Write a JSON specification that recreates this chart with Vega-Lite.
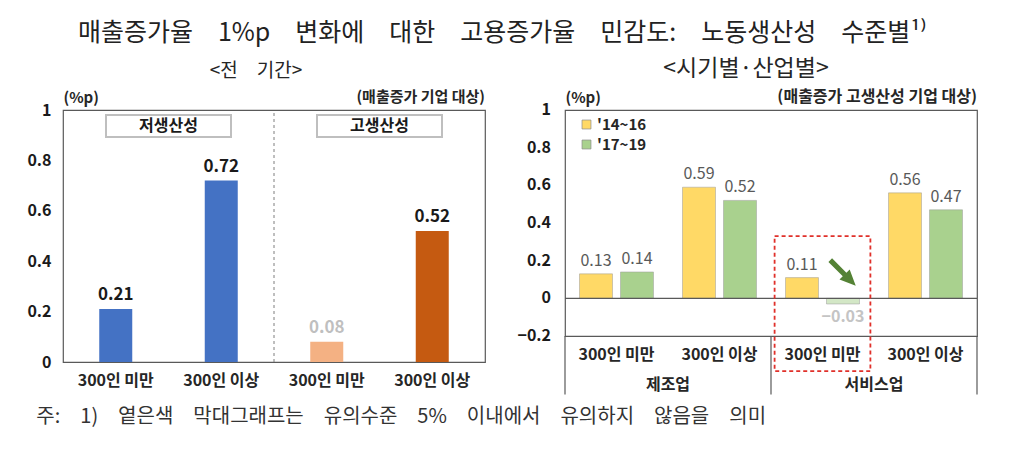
{
  "$schema": "https://vega.github.io/schema/vega-lite/v6.json",
  "padding": {"left": 26, "top": 21, "right": 5, "bottom": 5},
  "config": {
    "font": "Noto Sans CJK KR",
    "view": {"stroke": "#595959", "strokeWidth": 1.2},
    "axis": {"grid": false}
  },
  "title": {
    "text": "매출증가율\u20031%p\u2003변화에\u2003대한\u2003고용증가율\u2003민감도:\u2003노동생산성\u2003수준별¹⁾",
    "fontSize": 25, "fontWeight": "normal", "color": "#222222", "anchor": "middle", "offset": 11
  },
  "vconcat": [
    {
      "bounds": "flush",
      "spacing": 80,
      "resolve": {"scale": {"color": "independent"}, "legend": {"color": "independent"}},
      "title": {
        "text": "주:\u20031)\u2003옅은색\u2003막대그래프는\u2003유의수준\u20035%\u2003이내에서\u2003유의하지\u2003않음을\u2003의미",
        "orient": "bottom", "anchor": "start", "fontSize": 20, "fontWeight": "normal", "color": "#333333", "offset": 11, "dx": 10
      },
      "hconcat": [
        {
          "width": 422,
          "height": 252,
          "title": {"text": "<전\u2003기간>", "fontSize": 19, "fontWeight": "normal", "color": "#262626", "offset": 9, "dx": -18},
          "data": {"values": [
            {"prod": "저생산성", "size": "300인 미만", "key": "저생산성|300인 미만", "value": 0.21, "sig": true},
            {"prod": "저생산성", "size": "300인 이상", "key": "저생산성|300인 이상", "value": 0.72, "sig": true},
            {"prod": "고생산성", "size": "300인 미만", "key": "고생산성|300인 미만", "value": 0.08, "sig": false},
            {"prod": "고생산성", "size": "300인 이상", "key": "고생산성|300인 이상", "value": 0.52, "sig": true}
          ]},
          "layer": [
            {
              "mark": {"type": "bar", "width": 33},
              "encoding": {
                "x": {"field": "key", "type": "nominal",
                  "scale": {"domain": ["저생산성|300인 미만", "저생산성|300인 이상", "고생산성|300인 미만", "고생산성|300인 이상"], "paddingInner": 0, "paddingOuter": 0},
                  "axis": {"title": null, "orient": "bottom", "labelAngle": 0, "labelExpr": "split(datum.label, '|')[1]", "labelFontSize": 16, "labelFontWeight": "bold", "labelColor": "#262626", "labelPadding": 10, "ticks": false, "domain": false}},
                "y": {"field": "value", "type": "quantitative", "scale": {"domain": [0, 1], "nice": false},
                  "axis": {"orient": "left", "values": [0, 0.2, 0.4, 0.6, 0.8, 1], "format": "~g", "labelOverlap": false, "labelFontSize": 16, "labelFontWeight": "bold", "labelColor": "#1a1a1a", "labelPadding": 12, "ticks": false, "domain": false,
                    "title": "(%p)", "titleAngle": 0, "titleAlign": "left", "titleBaseline": "bottom", "titleX": 0, "titleY": -5, "titleFontSize": 15, "titleFontWeight": "bold", "titleColor": "#262626"}},
                "color": {"condition": {"test": "!datum.sig", "value": "#f4b183"}, "field": "prod", "type": "nominal",
                  "scale": {"domain": ["저생산성", "고생산성"], "range": ["#4472c4", "#c55a11"]}, "legend": null}
              }
            },
            {
              "mark": {"type": "text", "baseline": "bottom", "dy": -5, "fontSize": 17, "fontWeight": "bold"},
              "encoding": {
                "x": {"field": "key", "type": "nominal", "scale": {"domain": ["저생산성|300인 미만", "저생산성|300인 이상", "고생산성|300인 미만", "고생산성|300인 이상"], "paddingInner": 0, "paddingOuter": 0}},
                "y": {"field": "value", "type": "quantitative", "scale": {"domain": [0, 1], "nice": false}},
                "text": {"field": "value", "type": "quantitative", "format": ".2f"},
                "color": {"condition": {"test": "!datum.sig", "value": "#bfbfbf"}, "value": "#1a1a1a"}
              }
            },
            {
              "data": {"values": [{"key": "고생산성|300인 미만"}]},
              "mark": {"type": "rule", "strokeDash": [3, 3], "color": "#7f7f7f", "strokeWidth": 1},
              "encoding": {
                "x": {"field": "key", "type": "nominal", "bandPosition": 0, "scale": {"domain": ["저생산성|300인 미만", "저생산성|300인 이상", "고생산성|300인 미만", "고생산성|300인 이상"], "paddingInner": 0, "paddingOuter": 0}},
                "y": {"datum": 0, "scale": {"domain": [0, 1], "nice": false}},
                "y2": {"datum": 1}
              }
            },
            {
              "data": {"values": [{"key": "저생산성|300인 미만", "label": "저생산성"}, {"key": "고생산성|300인 미만", "label": "고생산성"}]},
              "layer": [
                {
                  "mark": {"type": "point", "shape": "M-1,-0.176L1,-0.176L1,0.176L-1,0.176Z", "size": 15625, "filled": true, "fill": "#ffffff", "stroke": "#bfbfbf", "strokeWidth": 2, "opacity": 1},
                  "encoding": {
                    "x": {"field": "key", "type": "nominal", "bandPosition": 1, "scale": {"domain": ["저생산성|300인 미만", "저생산성|300인 이상", "고생산성|300인 미만", "고생산성|300인 이상"], "paddingInner": 0, "paddingOuter": 0}},
                    "y": {"datum": 0.937, "scale": {"domain": [0, 1], "nice": false}}
                  }
                },
                {
                  "mark": {"type": "text", "fontSize": 16, "fontWeight": "bold", "color": "#1a1a1a"},
                  "encoding": {
                    "x": {"field": "key", "type": "nominal", "bandPosition": 1, "scale": {"domain": ["저생산성|300인 미만", "저생산성|300인 이상", "고생산성|300인 미만", "고생산성|300인 이상"], "paddingInner": 0, "paddingOuter": 0}},
                    "y": {"datum": 0.937, "scale": {"domain": [0, 1], "nice": false}},
                    "text": {"field": "label", "type": "nominal"}
                  }
                }
              ]
            },
            {
              "data": {"values": [{"key": "고생산성|300인 이상", "label": "(매출증가 기업 대상)"}]},
              "mark": {"type": "text", "align": "right", "baseline": "bottom", "dy": -5, "fontSize": 15, "fontWeight": "bold", "color": "#262626"},
              "encoding": {
                "x": {"field": "key", "type": "nominal", "bandPosition": 1, "scale": {"domain": ["저생산성|300인 미만", "저생산성|300인 이상", "고생산성|300인 미만", "고생산성|300인 이상"], "paddingInner": 0, "paddingOuter": 0}},
                "y": {"datum": 1, "scale": {"domain": [0, 1], "nice": false}},
                "text": {"field": "label", "type": "nominal"}
              }
            }
          ]
        },
        {
          "width": 412,
          "height": 226,
          "title": {"text": "<시기별·산업별>", "fontSize": 23, "fontWeight": "normal", "color": "#262626", "offset": 8, "dx": -25},
          "data": {"values": [
            {"ind": "제조업", "size": "300인 미만", "key": "제조업|300인 미만", "period": "'14~16", "value": 0.13, "sig": true},
            {"ind": "제조업", "size": "300인 미만", "key": "제조업|300인 미만", "period": "'17~19", "value": 0.14, "sig": true},
            {"ind": "제조업", "size": "300인 이상", "key": "제조업|300인 이상", "period": "'14~16", "value": 0.59, "sig": true},
            {"ind": "제조업", "size": "300인 이상", "key": "제조업|300인 이상", "period": "'17~19", "value": 0.52, "sig": true},
            {"ind": "서비스업", "size": "300인 미만", "key": "서비스업|300인 미만", "period": "'14~16", "value": 0.11, "sig": true},
            {"ind": "서비스업", "size": "300인 미만", "key": "서비스업|300인 미만", "period": "'17~19", "value": -0.03, "sig": false},
            {"ind": "서비스업", "size": "300인 이상", "key": "서비스업|300인 이상", "period": "'14~16", "value": 0.56, "sig": true},
            {"ind": "서비스업", "size": "300인 이상", "key": "서비스업|300인 이상", "period": "'17~19", "value": 0.47, "sig": true}
          ]},
          "layer": [
            {
              "mark": {"type": "bar", "stroke": "#9a9a9a", "strokeWidth": 0.5},
              "encoding": {
                "x": {"field": "key", "type": "nominal",
                  "scale": {"type": "band", "domain": ["제조업|300인 미만", "제조업|300인 이상", "서비스업|300인 미만", "서비스업|300인 이상"], "paddingInner": 0, "paddingOuter": 0},
                  "axis": {"title": null, "orient": "bottom", "labelAngle": 0, "labelExpr": "split(datum.label, '|')[1]", "labelFontSize": 16, "labelFontWeight": "bold", "labelColor": "#262626", "labelPadding": 10, "ticks": false, "domain": false}},
                "xOffset": {"field": "period", "type": "nominal", "scale": {"domain": ["'14~16", "'17~19"], "paddingInner": 0.195, "paddingOuter": 0.354}},
                "y": {"field": "value", "type": "quantitative", "scale": {"domain": [-0.2, 1], "nice": false},
                  "axis": {"orient": "left", "values": [-0.2, 0, 0.2, 0.4, 0.6, 0.8, 1], "labels": false, "ticks": false, "domain": false,
                    "title": "(%p)", "titleAngle": 0, "titleAlign": "left", "titleBaseline": "bottom", "titleX": 0, "titleY": -5, "titleFontSize": 15, "titleFontWeight": "bold", "titleColor": "#262626"}},
                "color": {"condition": {"test": "!datum.sig", "value": "#d3e7c6"}, "field": "period", "type": "nominal",
                  "scale": {"domain": ["'14~16", "'17~19"], "range": ["#ffd966", "#a9d18e"]},
                  "legend": {"title": null, "orient": "none", "legendX": 14, "legendY": 7, "symbolType": "square", "symbolSize": 80, "symbolStrokeColor": "#8c8c8c", "symbolStrokeWidth": 0.7, "labelFontSize": 15, "labelFontWeight": "bold", "labelColor": "#262626", "rowPadding": 4, "labelOffset": 3}}
              }
            },
            {
              "data": {"values": [{"tick": -0.2}, {"tick": 0}, {"tick": 0.2}, {"tick": 0.4}, {"tick": 0.6}, {"tick": 0.8}, {"tick": 1}]},
              "mark": {"type": "text", "align": "right", "baseline": "middle", "dx": -14, "fontSize": 16, "fontWeight": "bold", "color": "#1a1a1a"},
              "encoding": {
                "x": {"datum": "제조업|300인 미만", "type": "nominal", "bandPosition": 0, "scale": {"type": "band", "domain": ["제조업|300인 미만", "제조업|300인 이상", "서비스업|300인 미만", "서비스업|300인 이상"], "paddingInner": 0, "paddingOuter": 0}, "axis": null},
                "y": {"field": "tick", "type": "quantitative", "scale": {"domain": [-0.2, 1], "nice": false}},
                "text": {"field": "tick", "type": "quantitative", "format": "~g"}
              }
            },
            {
              "transform": [{"filter": "datum.value >= 0"}],
              "mark": {"type": "text", "baseline": "bottom", "dy": -5, "fontSize": 16, "color": "#595959"},
              "encoding": {
                "x": {"field": "key", "type": "nominal", "scale": {"type": "band", "domain": ["제조업|300인 미만", "제조업|300인 이상", "서비스업|300인 미만", "서비스업|300인 이상"], "paddingInner": 0, "paddingOuter": 0}, "axis": null},
                "xOffset": {"field": "period", "type": "nominal", "scale": {"domain": ["'14~16", "'17~19"], "paddingInner": 0.195, "paddingOuter": 0.354}},
                "y": {"field": "value", "type": "quantitative", "scale": {"domain": [-0.2, 1], "nice": false}},
                "text": {"field": "value", "type": "quantitative", "format": ".2f"}
              }
            },
            {
              "transform": [{"filter": "datum.value < 0"}],
              "mark": {"type": "text", "baseline": "top", "dy": 5, "fontSize": 16, "fontWeight": "bold", "color": "#c4c4c4"},
              "encoding": {
                "x": {"field": "key", "type": "nominal", "scale": {"type": "band", "domain": ["제조업|300인 미만", "제조업|300인 이상", "서비스업|300인 미만", "서비스업|300인 이상"], "paddingInner": 0, "paddingOuter": 0}, "axis": null},
                "xOffset": {"field": "period", "type": "nominal", "scale": {"domain": ["'14~16", "'17~19"], "paddingInner": 0.195, "paddingOuter": 0.354}},
                "y": {"field": "value", "type": "quantitative", "scale": {"domain": [-0.2, 1], "nice": false}},
                "text": {"field": "value", "type": "quantitative", "format": ".2f"}
              }
            },
            {
              "data": {"values": [{}]},
              "mark": {"type": "rule", "color": "#595959", "strokeWidth": 1.2},
              "encoding": {"y": {"datum": 0, "scale": {"domain": [-0.2, 1], "nice": false}}}
            },
            {
              "data": {"values": [{"key": "서비스업|300인 미만"}]},
              "mark": {"type": "bar", "width": {"band": 0.93}, "fill": "transparent", "stroke": "#e0302a", "strokeWidth": 1.8, "strokeDash": [4, 3]},
              "encoding": {
                "x": {"field": "key", "type": "nominal", "scale": {"type": "band", "domain": ["제조업|300인 미만", "제조업|300인 이상", "서비스업|300인 미만", "서비스업|300인 이상"], "paddingInner": 0, "paddingOuter": 0}, "axis": null},
                "y": {"datum": 0.33, "scale": {"domain": [-0.2, 1], "nice": false}},
                "y2": {"datum": -0.387}
              }
            },
            {
              "data": {"values": [{"key": "서비스업|300인 미만", "period": "'17~19"}]},
              "mark": {"type": "point", "shape": "arrow", "angle": 135, "size": 1300, "filled": true, "color": "#548235", "opacity": 1},
              "encoding": {
                "x": {"field": "key", "type": "nominal", "scale": {"type": "band", "domain": ["제조업|300인 미만", "제조업|300인 이상", "서비스업|300인 미만", "서비스업|300인 이상"], "paddingInner": 0, "paddingOuter": 0}, "axis": null},
                "xOffset": {"field": "period", "type": "nominal", "scale": {"domain": ["'14~16", "'17~19"], "paddingInner": 0.195, "paddingOuter": 0.354}},
                "y": {"datum": 0.135, "scale": {"domain": [-0.2, 1], "nice": false}}
              }
            },
            {
              "data": {"values": [{"key": "서비스업|300인 이상", "label": "(매출증가 고생산성 기업 대상)"}]},
              "mark": {"type": "text", "align": "right", "baseline": "bottom", "dy": -5, "fontSize": 16, "fontWeight": "bold", "color": "#262626"},
              "encoding": {
                "x": {"field": "key", "type": "nominal", "bandPosition": 1, "scale": {"type": "band", "domain": ["제조업|300인 미만", "제조업|300인 이상", "서비스업|300인 미만", "서비스업|300인 이상"], "paddingInner": 0, "paddingOuter": 0}, "axis": null},
                "y": {"datum": 1, "scale": {"domain": [-0.2, 1], "nice": false}},
                "text": {"field": "label", "type": "nominal"}
              }
            },
            {
              "data": {"values": [{"ind": "제조업"}, {"ind": "서비스업"}]},
              "mark": {"type": "rule", "color": "#595959", "strokeWidth": 1.2},
              "encoding": {
                "x": {"field": "ind", "type": "nominal", "bandPosition": 0, "scale": {"type": "band", "domain": ["제조업", "서비스업"], "paddingInner": 0, "paddingOuter": 0},
                  "axis": {"title": null, "orient": "bottom", "labelAngle": 0, "ticks": false, "domain": false, "labelPadding": 40, "labelFontSize": 16, "labelFontWeight": "bold", "labelColor": "#262626"}},
                "y": {"datum": -0.2, "scale": {"domain": [-0.2, 1], "nice": false}},
                "y2": {"datum": -0.51}
              }
            },
            {
              "data": {"values": [{"ind": "서비스업"}]},
              "mark": {"type": "rule", "color": "#595959", "strokeWidth": 1.2},
              "encoding": {
                "x": {"field": "ind", "type": "nominal", "bandPosition": 1, "scale": {"type": "band", "domain": ["제조업", "서비스업"], "paddingInner": 0, "paddingOuter": 0}, "axis": null},
                "y": {"datum": -0.2, "scale": {"domain": [-0.2, 1], "nice": false}},
                "y2": {"datum": -0.51}
              }
            }
          ],
          "resolve": {"scale": {"x": "independent"}, "axis": {"x": "independent"}}
        }
      ]
    }
  ]
}
